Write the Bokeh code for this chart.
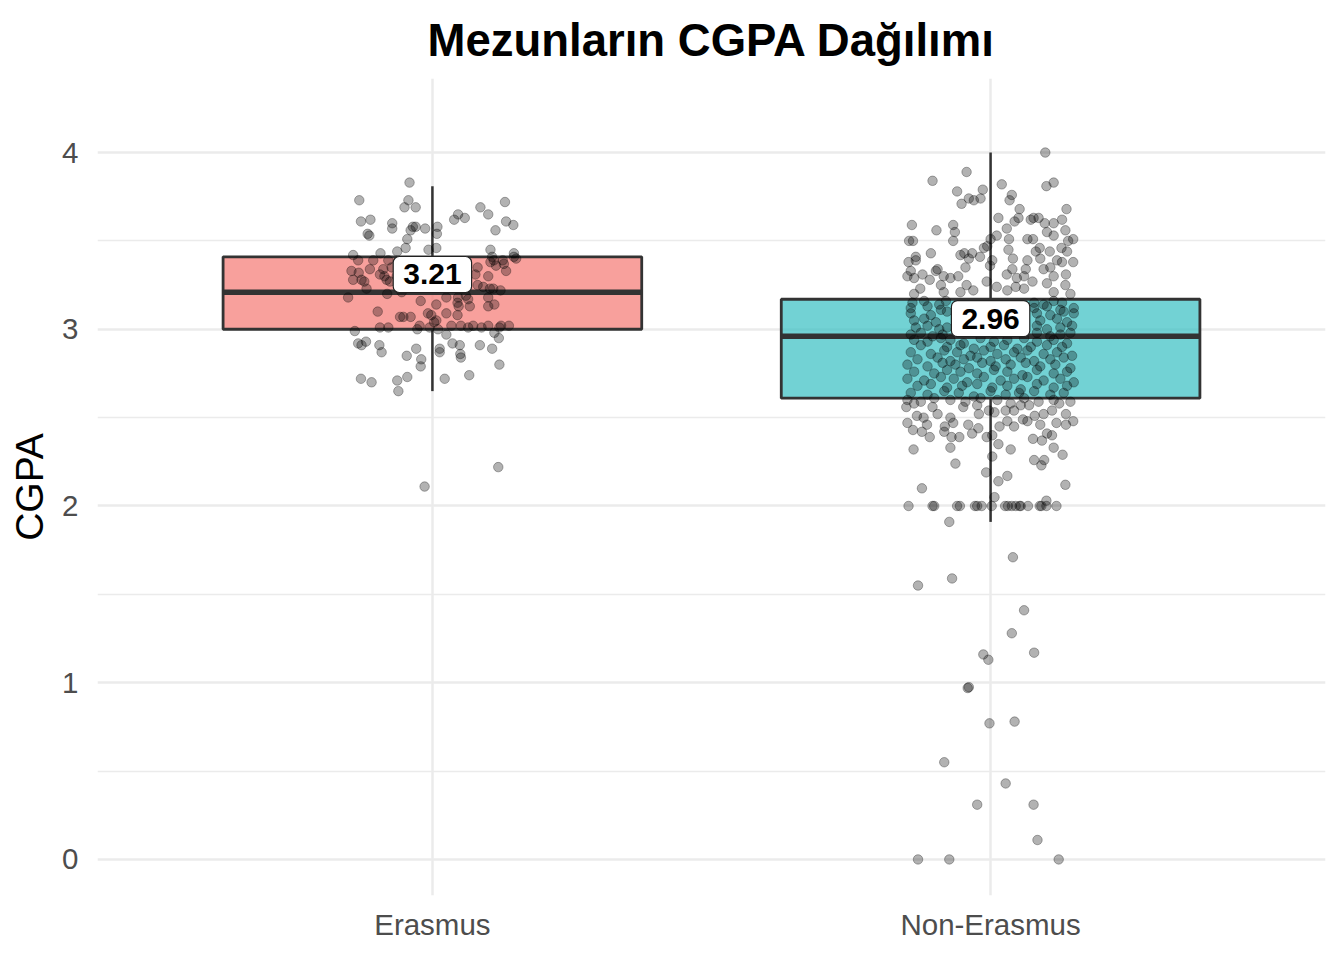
from bokeh.plotting import figure
from bokeh.models import Range1d, FixedTicker, Label, ColumnDataSource
from bokeh.embed import file_html
from bokeh.resources import INLINE

GROUPS = ["Erasmus", "Non-Erasmus"]
POS = [1, 2]
COLORS = ["#F57772", "#36BFC2"]

# box statistics
Q1 = [3.00, 2.61]
MEDIAN = [3.21, 2.96]
Q3 = [3.41, 3.17]
WHISK_LO = [2.65, 1.91]
WHISK_HI = [3.81, 4.00]

# jittered points: horizontal offset from the group centre, and CGPA
ER_DX = [-0.041, -0.131, -0.043, -0.050, -0.030, 0.086, 0.130, 0.100, 0.046, 0.058,
         0.039, -0.128, -0.111, -0.072, -0.072, -0.035, -0.030, -0.039, -0.013, 0.009,
         0.008, 0.132, 0.145, 0.113, -0.116, -0.113, -0.045, -0.048, -0.063, -0.007,
         0.007, -0.093, 0.104, 0.146, 0.150, 0.107, 0.126, 0.128, -0.133, -0.079,
         -0.088, -0.073, -0.145, -0.142, -0.127, -0.122, -0.086, -0.082, -0.118, -0.151,
         -0.081, -0.055, -0.098, -0.052, -0.079, -0.021, 0.007, -0.008, -0.002, 0.003,
         -0.027, -0.005, 0.010, 0.025, 0.013, -0.029, -0.046, -0.020, -0.021, -0.045,
         -0.063, -0.061, -0.128, -0.109, -0.139, -0.133, -0.127, -0.119, -0.095, -0.091,
         0.022, 0.066, 0.050, 0.051, 0.036, 0.049, 0.107, 0.120, 0.119, 0.111,
         0.123, 0.137, 0.100, 0.088, 0.073, 0.064, 0.051, 0.034, 0.045, 0.047,
         0.025, 0.046, 0.060, 0.064, 0.067, 0.081, 0.091, 0.103, 0.109, 0.122,
         0.100, 0.111, 0.100, 0.077, 0.081, 0.100, 0.110, 0.114, 0.104, 0.132,
         0.146, -0.132, -0.112, -0.106, -0.142, -0.094, -0.076, -0.064, -0.055, -0.039,
         -0.058, -0.094, -0.023, 0.007, 0.025, 0.045, 0.120, 0.085, 0.013, -0.014,
         0.118]
ER_Y = [3.83, 3.73, 3.73, 3.69, 3.69, 3.69, 3.72, 3.65, 3.65, 3.63,
        3.62, 3.61, 3.62, 3.60, 3.57, 3.58, 3.58, 3.56, 3.57, 3.58,
        3.54, 3.61, 3.59, 3.56, 3.54, 3.53, 3.51, 3.46, 3.44, 3.45,
        3.46, 3.43, 3.45, 3.43, 3.40, 3.41, 3.39, 3.37, 3.39, 3.39,
        3.34, 3.35, 3.33, 3.28, 3.28, 3.27, 3.30, 3.28, 3.23, 3.18,
        3.20, 3.21, 3.10, 3.07, 3.01, 3.16, 3.14, 3.09, 3.08, 3.04,
        3.00, 3.01, 3.00, 2.97, 2.89, 2.89, 2.85, 2.83, 2.79, 2.73,
        2.71, 2.65, 2.72, 2.70, 2.99, 2.92, 2.91, 2.93, 2.91, 2.87,
        2.72, 2.74, 2.86, 2.84, 2.92, 2.91, 2.89, 2.80, 2.95, 2.98,
        3.02, 3.02, 3.02, 3.01, 3.02, 3.01, 3.02, 3.02, 3.08, 3.13,
        3.18, 3.18, 3.19, 3.17, 3.13, 3.25, 3.24, 3.23, 3.23, 3.22,
        3.18, 3.14, 3.13, 3.31, 3.35, 3.30, 3.39, 3.36, 3.38, 3.33,
        3.41, 3.32, 3.34, 3.39, 3.42, 3.31, 3.27, 3.30, 3.28, 3.07,
        3.07, 3.01, 3.02, 3.05, 3.09, 3.15, 3.01, 2.91, 2.87, 2.11,
        2.22]

# Non-Erasmus, low tail (below the lower whisker)
NE_TAIL_DX = [-0.130, -0.074, 0.122, 0.084, -0.024, 0.077, 0.027, -0.083, -0.002, 0.043,
              -0.039, -0.041, -0.013, -0.004, 0.078, 0.038, 0.060, -0.130, -0.069, 0.040]
NE_TAIL_Y = [0.00, 0.00, 0.00, 0.11, 0.31, 0.31, 0.43, 0.55, 0.77, 0.78,
             0.975, 0.97, 1.16, 1.13, 1.17, 1.28, 1.41, 1.55, 1.59, 1.71]

# Non-Erasmus, between 1.9 and the lower hinge
NE_LOW_DX = [-0.147, -0.104, -0.101, -0.060, -0.055, -0.028, -0.024, -0.016, 0.002, 0.026,
             0.031, 0.038, 0.045, 0.052, 0.054, 0.067, 0.088, 0.091, 0.100, 0.118,
             0.100, -0.074, 0.007, 0.134, -0.123, 0.014, 0.030, -0.008, -0.063, 0.003,
             0.078, 0.096, 0.091, 0.129, -0.138, -0.072, 0.036, 0.113, 0.014, 0.076,
             0.092, 0.110, 0.003, -0.007, -0.056, -0.070, -0.109, -0.123, -0.139, -0.083,
             -0.033, -0.022, -0.040, -0.149, -0.114, 0.042, 0.016, 0.030, 0.058, 0.066,
             0.079, 0.089, 0.101, 0.118, 0.135, 0.148, 0.135, -0.072, -0.067, -0.082,
             -0.132, -0.120, -0.151, -0.095, -0.021, -0.024, -0.003, 0.007, -0.049, 0.027,
             0.042, 0.054, 0.069, 0.095, 0.110, 0.123, -0.104, -0.137]
NE_LOW_Y = [2.00, 2.00, 2.00, 2.00, 2.00, 2.00, 2.00, 2.00, 2.00, 2.00,
            2.00, 2.00, 2.00, 2.00, 2.00, 2.00, 2.00, 2.00, 2.00, 2.00,
            2.03, 1.91, 2.05, 2.12, 2.10, 2.14, 2.17, 2.19, 2.24, 2.28,
            2.26, 2.26, 2.23, 2.29, 2.32, 2.33, 2.32, 2.33, 2.35, 2.38,
            2.37, 2.40, 2.40, 2.39, 2.39, 2.39, 2.39, 2.42, 2.43, 2.42,
            2.41, 2.44, 2.46, 2.47, 2.46, 2.45, 2.45, 2.48, 2.49, 2.48,
            2.51, 2.46, 2.41, 2.47, 2.46, 2.48, 2.52, 2.50, 2.47, 2.45,
            2.51, 2.50, 2.56, 2.52, 2.52, 2.57, 2.54, 2.53, 2.56, 2.54,
            2.54, 2.57, 2.57, 2.52, 2.54, 2.58, 2.56, 2.58]

# Non-Erasmus, inside the box
NE_BOX_DX = [-0.140, -0.119, -0.092, -0.080, 0.078, 0.095, 0.113, 0.128,
             -0.143, -0.113, -0.089, 0.078, 0.101, 0.125, 0.149,
             -0.143, -0.107, -0.078, 0.083, 0.107, 0.131, 0.149,
             -0.137, -0.119, -0.098, 0.089, 0.119, 0.137,
             -0.134, -0.113, -0.092, -0.078, 0.083, 0.101, 0.125, 0.146,
             -0.143, -0.125, -0.104, -0.086, 0.083, 0.107, 0.125, 0.143,
             -0.137, -0.113, -0.089, -0.072, -0.048, -0.018, 0.006, 0.030, 0.060, 0.083, 0.113, 0.137,
             -0.125, -0.078, -0.054, -0.030, 0.000, 0.024, 0.048, 0.072, 0.101, 0.128,
             -0.143, -0.107, -0.083, -0.060, -0.036, -0.012, 0.012, 0.042, 0.066, 0.095, 0.119, 0.146,
             -0.131, -0.095, -0.072, -0.048, -0.024, 0.000, 0.027, 0.054, 0.078, 0.107, 0.131,
             -0.149, -0.113, -0.086, -0.063, -0.039, -0.015, 0.009, 0.036, 0.063, 0.089, 0.116, 0.143,
             -0.137, -0.101, -0.078, -0.054, -0.024, 0.006, 0.030, 0.057, 0.083, 0.113, 0.137,
             -0.149, -0.119, -0.089, -0.066, -0.042, -0.012, 0.018, 0.042, 0.066, 0.095, 0.125, 0.149,
             -0.131, -0.107, -0.078, -0.051, -0.024, 0.003, 0.030, 0.054, 0.083, 0.113, 0.137,
             -0.143, -0.113, -0.083, -0.057, -0.030, 0.000, 0.027, 0.051, 0.078, 0.107, 0.131,
             -0.149, -0.125, -0.101, -0.072, -0.045, -0.018, 0.012, 0.036, 0.060, 0.086, 0.113, 0.143]
NE_BOX_Y = [3.15, 3.16, 3.14, 3.16, 3.15, 3.14, 3.16, 3.15,
            3.12, 3.13, 3.11, 3.12, 3.13, 3.11, 3.12,
            3.09, 3.08, 3.10, 3.09, 3.08, 3.10, 3.09,
            3.05, 3.06, 3.04, 3.05, 3.06, 3.04,
            3.01, 3.02, 3.00, 3.01, 3.02, 3.00, 3.01, 3.02,
            2.97, 2.98, 2.96, 2.97, 2.98, 2.96, 2.97, 2.98,
            2.94, 2.93, 2.95, 2.94, 2.92, 2.95, 2.93, 2.94, 2.95, 2.93, 2.94, 2.92,
            2.91, 2.90, 2.91, 2.89, 2.90, 2.91, 2.89, 2.90, 2.91, 2.90,
            2.87, 2.86, 2.88, 2.87, 2.85, 2.88, 2.86, 2.87, 2.88, 2.86, 2.87, 2.85,
            2.83, 2.84, 2.82, 2.83, 2.84, 2.82, 2.83, 2.84, 2.82, 2.83, 2.84,
            2.80, 2.79, 2.81, 2.80, 2.78, 2.81, 2.79, 2.80, 2.81, 2.79, 2.80, 2.78,
            2.76, 2.75, 2.77, 2.76, 2.75, 2.77, 2.76, 2.74, 2.77, 2.75, 2.76,
            2.72, 2.71, 2.73, 2.72, 2.70, 2.73, 2.71, 2.72, 2.73, 2.71, 2.72, 2.70,
            2.68, 2.69, 2.67, 2.68, 2.69, 2.67, 2.68, 2.66, 2.69, 2.67, 2.68,
            2.64, 2.63, 2.65, 2.64, 2.62, 2.65, 2.63, 2.64, 2.65, 2.63, 2.64,
            2.60, 2.59, 2.61, 2.60, 2.59, 2.61, 2.60, 2.58, 2.61, 2.59, 2.60, 2.59]

# Non-Erasmus, above the upper hinge
NE_HIGH_DX = [0.098, -0.043, -0.104, 0.020, 0.113, 0.100, -0.060, -0.014, 0.038, 0.034,
              -0.039, -0.030, -0.018, -0.052, 0.136, 0.052, 0.014, 0.050, 0.043, 0.072,
              0.086, 0.077, -0.141, -0.067, 0.097, 0.113, 0.128, 0.029, -0.097, -0.064,
              0.101, 0.134, 0.113, -0.146, -0.139, -0.067, 0.000, 0.011, 0.033, 0.066,
              0.076, 0.139, 0.148, -0.012, -0.006, 0.032, 0.081, 0.088, 0.106, 0.127,
              0.137, -0.107, -0.054, -0.047, -0.033, -0.019, -0.134, -0.134, -0.039, 0.003,
              -0.001, 0.040, 0.066, 0.089, 0.119, 0.128, 0.148, -0.147, -0.045, -0.143,
              -0.095, 0.039, 0.063, 0.095, 0.107, -0.122, -0.149, -0.137, -0.109, -0.098,
              -0.084, -0.072, -0.058, 0.029, 0.047, 0.060, 0.075, 0.113, 0.135, 0.134,
              0.101, -0.126, -0.137, -0.089, -0.043, -0.031, -0.007, 0.011, 0.045, 0.030,
              0.060, 0.113, 0.143, -0.084, -0.054]
NE_HIGH_Y = [4.00, 3.89, 3.84, 3.82, 3.83, 3.81, 3.78, 3.79, 3.76, 3.73,
             3.74, 3.73, 3.74, 3.71, 3.68, 3.68, 3.63, 3.63, 3.61, 3.62,
             3.63, 3.63, 3.59, 3.59, 3.60, 3.60, 3.62, 3.57, 3.56, 3.55,
             3.55, 3.56, 3.53, 3.50, 3.50, 3.50, 3.51, 3.53, 3.51, 3.51,
             3.51, 3.50, 3.51, 3.46, 3.47, 3.45, 3.44, 3.46, 3.44, 3.46,
             3.44, 3.43, 3.42, 3.43, 3.43, 3.41, 3.41, 3.39, 3.40, 3.39,
             3.36, 3.40, 3.39, 3.40, 3.39, 3.38, 3.38, 3.38, 3.35, 3.33,
             3.34, 3.34, 3.34, 3.34, 3.35, 3.31, 3.30, 3.29, 3.28, 3.33,
             3.30, 3.29, 3.30, 3.31, 3.29, 3.30, 3.27, 3.30, 3.31, 3.25,
             3.26, 3.23, 3.20, 3.25, 3.25, 3.22, 3.27, 3.24, 3.24, 3.22,
             3.23, 3.21, 3.20, 3.21, 3.21]

FONT = "Liberation Sans"
GRID = "#EBEBEB"
EDGE = "#333333"
HALF = 0.375

p = figure(width=1328, height=944, output_backend="svg", toolbar_location=None,
           x_range=Range1d(0.4, 2.6), y_range=Range1d(-0.204, 4.419),
           min_border_left=97, min_border_right=3, min_border_top=78, min_border_bottom=49)
p.outline_line_color = None
p.background_fill_color = "white"

p.title.text = "Mezunların CGPA Dağılımı"
p.title.text_font = FONT
p.title.text_font_size = "45.5px"
p.title.text_font_style = "bold"
p.title.align = "center"
p.title.text_color = "black"
p.title.standoff = 25

p.xaxis.ticker = FixedTicker(ticks=POS)
p.xaxis.major_label_overrides = {pos: g for pos, g in zip(POS, GROUPS)}
p.yaxis.ticker = FixedTicker(ticks=[0, 1, 2, 3, 4], minor_ticks=[0.5, 1.5, 2.5, 3.5])
p.yaxis.axis_label = "CGPA"
for ax in (p.xaxis, p.yaxis):
    ax.axis_line_color = None
    ax.major_tick_line_color = None
    ax.minor_tick_line_color = None
    ax.major_tick_out = 0
    ax.minor_tick_out = 0
    ax.major_label_text_font = FONT
    ax.major_label_text_font_size = "29.5px"
    ax.major_label_text_color = "#4D4D4D"
p.xaxis.major_label_standoff = 12
p.yaxis.major_label_standoff = 19
p.yaxis.axis_label_text_font = FONT
p.yaxis.axis_label_text_font_size = "39px"
p.yaxis.axis_label_text_font_style = "normal"
p.yaxis.axis_label_text_color = "black"
p.yaxis.axis_label_standoff = 8

p.xgrid.grid_line_color = GRID
p.xgrid.grid_line_width = 2.5
p.ygrid.grid_line_color = GRID
p.ygrid.grid_line_width = 2.5
p.ygrid.minor_grid_line_color = GRID
p.ygrid.minor_grid_line_width = 1.5

# whiskers
p.segment(x0=POS, y0=Q3, x1=POS, y1=WHISK_HI, line_color=EDGE, line_width=2.5)
p.segment(x0=POS, y0=Q1, x1=POS, y1=WHISK_LO, line_color=EDGE, line_width=2.5)

# boxes
box = ColumnDataSource(dict(left=[x - HALF for x in POS], right=[x + HALF for x in POS],
                            bottom=Q1, top=Q3, color=COLORS))
p.quad(left="left", right="right", bottom="bottom", top="top", source=box,
       fill_color="color", fill_alpha=0.7, line_color=EDGE, line_width=2.8)
p.segment(x0=[x - HALF for x in POS], y0=MEDIAN, x1=[x + HALF for x in POS], y1=MEDIAN,
          line_color=EDGE, line_width=5.5)

# jittered points
ne_dx = NE_TAIL_DX + NE_LOW_DX + NE_BOX_DX + NE_HIGH_DX
ne_y = NE_TAIL_Y + NE_LOW_Y + NE_BOX_Y + NE_HIGH_Y
pts_x = [POS[0] + d for d in ER_DX] + [POS[1] + d for d in ne_dx]
pts_y = ER_Y + ne_y
p.scatter(pts_x, pts_y, size=9.5, fill_color="black", fill_alpha=0.3,
          line_color="black", line_alpha=0.3, line_width=1)

# median labels
for x, m in zip(POS, MEDIAN):
    p.add_layout(Label(x=x, y=m + 0.1, text=f"{m:.2f}", text_align="center",
                       text_baseline="middle", text_font=FONT, text_font_size="30px",
                       text_font_style="bold", text_color="black",
                       background_fill_color="white", border_line_color="#222222",
                       border_line_width=1.2, border_radius=6,
                       padding=dict(left=10, right=10, top=8, bottom=8)))

open("out.html", "w").write(file_html(p, INLINE))
